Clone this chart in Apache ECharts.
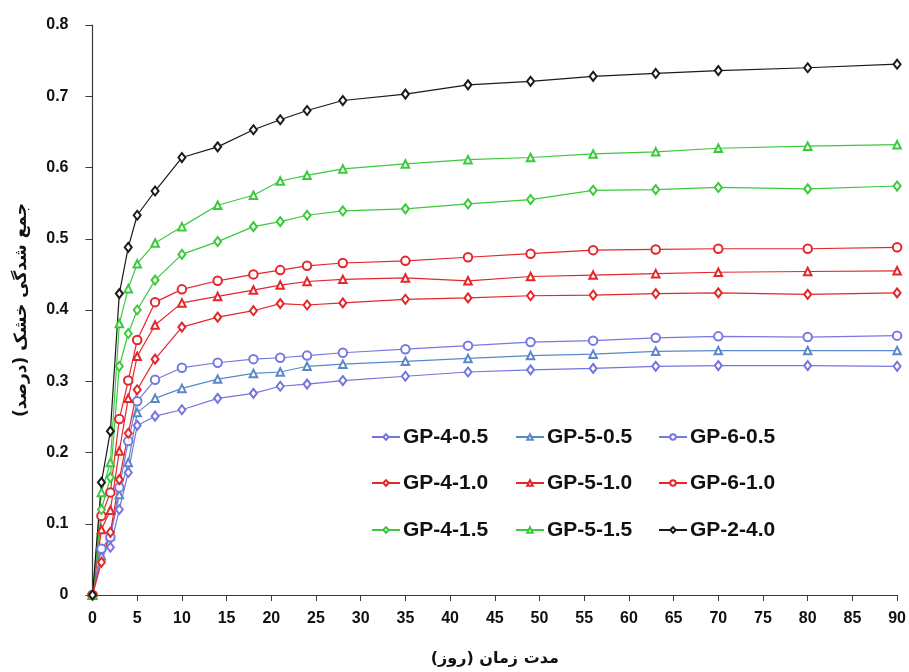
<!DOCTYPE html>
<html>
<head>
<meta charset="utf-8">
<script src="https://cdn.jsdelivr.net/npm/echarts@6/dist/echarts.min.js"></script>
<style>
html,body{margin:0;padding:0;background:#fff;}
#chart{width:909px;height:672px;}
</style>
</head>
<body>
<div id="chart"></div>
<script>
// ---- data ----
var days = [0, 1, 2, 3, 4, 5, 7, 10, 14, 18, 21, 24, 28, 35, 42, 49, 56, 63, 70, 80, 90];
var gp4_05 = [0, 0.062, 0.067, 0.120, 0.172, 0.238, 0.251, 0.260, 0.276, 0.283, 0.293, 0.296, 0.301, 0.307, 0.313, 0.316, 0.318, 0.321, 0.322, 0.322, 0.321];
var gp5_05 = [0, 0.055, 0.083, 0.141, 0.186, 0.256, 0.276, 0.290, 0.303, 0.311, 0.313, 0.321, 0.324, 0.328, 0.332, 0.336, 0.338, 0.342, 0.343, 0.343, 0.343];
var gp6_05 = [0, 0.065, 0.081, 0.151, 0.216, 0.272, 0.302, 0.319, 0.326, 0.331, 0.333, 0.336, 0.340, 0.345, 0.350, 0.355, 0.357, 0.361, 0.363, 0.362, 0.364];
var gp4_10 = [0, 0.046, 0.088, 0.162, 0.227, 0.288, 0.331, 0.376, 0.390, 0.399, 0.409, 0.407, 0.410, 0.415, 0.417, 0.420, 0.421, 0.423, 0.424, 0.422, 0.424];
var gp5_10 = [0, 0.092, 0.119, 0.202, 0.276, 0.335, 0.379, 0.410, 0.419, 0.428, 0.435, 0.440, 0.443, 0.445, 0.441, 0.447, 0.449, 0.451, 0.453, 0.454, 0.455];
var gp6_10 = [0, 0.111, 0.144, 0.247, 0.301, 0.358, 0.411, 0.429, 0.441, 0.450, 0.456, 0.462, 0.466, 0.469, 0.474, 0.479, 0.484, 0.485, 0.486, 0.486, 0.488];
var gp4_15 = [0, 0.120, 0.165, 0.321, 0.367, 0.400, 0.442, 0.478, 0.496, 0.517, 0.524, 0.533, 0.539, 0.542, 0.549, 0.555, 0.568, 0.569, 0.572, 0.570, 0.574];
var gp5_15 = [0, 0.144, 0.186, 0.381, 0.430, 0.465, 0.494, 0.517, 0.547, 0.561, 0.581, 0.589, 0.598, 0.605, 0.611, 0.614, 0.619, 0.622, 0.627, 0.630, 0.632];
var gp2_40 = [0, 0.158, 0.230, 0.423, 0.488, 0.533, 0.567, 0.614, 0.629, 0.653, 0.667, 0.680, 0.694, 0.703, 0.716, 0.721, 0.728, 0.732, 0.736, 0.740, 0.745];

var seriesNames = ['GP-4-0.5', 'GP-5-0.5', 'GP-6-0.5', 'GP-4-1.0', 'GP-5-1.0', 'GP-6-1.0', 'GP-4-1.5', 'GP-5-1.5', 'GP-2-4.0'];
var seriesValues = [gp4_05, gp5_05, gp6_05, gp4_10, gp5_10, gp6_10, gp4_15, gp5_15, gp2_40];
var xTicks = [0, 5, 10, 15, 20, 25, 30, 35, 40, 45, 50, 55, 60, 65, 70, 75, 80, 85, 90];
var yTicks = [0, 0.1, 0.2, 0.3, 0.4, 0.5, 0.6, 0.7, 0.8];
var xTitle = 'مدت زمان (روز)';
var yTitle = 'جمع شدگی خشک (درصد)';

// ---- styles ----
var colors = ['#7474e0', '#5a88c8', '#7878e2', '#e5262b', '#e5262b', '#e5262b', '#3cc93c', '#3cc93c', '#1a1a1a'];
var symbols = ['emptyDiamond', 'emptyTriangle', 'emptyCircle', 'emptyDiamond', 'emptyTriangle', 'emptyCircle', 'emptyDiamond', 'emptyTriangle', 'emptyDiamond'];
var symSizes = [[7, 9], 7.5, 8.5, [7, 9], 7.5, 8.5, [7, 9], 7.5, [7, 9]];
var legendLeft = [371, 515, 658];
var legendTop = [425, 471, 518];

var series = seriesNames.map(function (n, i) {
  return {
    name: n,
    type: 'line',
    data: days.map(function (d, j) { return [d, seriesValues[i][j]]; }),
    symbol: symbols[i],
    symbolSize: symSizes[i],
    showAllSymbol: true,
    lineStyle: { color: colors[i], width: 1.2 },
    itemStyle: { color: colors[i], borderColor: colors[i], borderWidth: 1 },
    emphasis: { disabled: true },
    animation: false
  };
});

var legends = seriesNames.map(function (n, i) {
  return {
    data: [n],
    left: legendLeft[i % 3],
    top: legendTop[Math.floor(i / 3)],
    padding: 0,
    itemWidth: 28,
    itemHeight: 7,
    itemGap: 0,
    selectedMode: false,
    textStyle: { fontSize: 21, fontWeight: 'bold', fontFamily: 'Liberation Sans', color: '#111', lineHeight: 24, padding: [0, 0, 0, -2] }
  };
});

var chart = echarts.init(document.getElementById('chart'), null, { renderer: 'canvas' });
chart.setOption({
  backgroundColor: '#ffffff',
  animation: false,
  grid: { left: 92.5, right: 6, top: 25, bottom: 76, containLabel: false },
  legend: legends,
  xAxis: {
    type: 'value', min: xTicks[0], max: xTicks[xTicks.length - 1], interval: 5,
    name: xTitle, nameLocation: 'middle', nameGap: 56,
    nameTextStyle: { fontSize: 16, fontWeight: 'bold', fontFamily: 'DejaVu Sans', color: '#111' },
    axisLine: { lineStyle: { color: '#3a3a3a', width: 1.2 } },
    axisTick: { show: true, inside: false, length: 6, lineStyle: { color: '#3a3a3a' } },
    axisLabel: { fontSize: 16, fontWeight: 'bold', fontFamily: 'Liberation Sans', color: '#111', margin: 16 },
    splitLine: { show: false }
  },
  yAxis: {
    type: 'value', min: yTicks[0], max: yTicks[yTicks.length - 1], interval: 0.1,
    name: yTitle, nameLocation: 'middle', nameGap: 62, nameRotate: 90,
    nameTextStyle: { fontSize: 17, fontWeight: 'bold', fontFamily: 'DejaVu Sans', color: '#111' },
    axisLine: { show: true, lineStyle: { color: '#3a3a3a', width: 1.2 } },
    axisTick: { show: true, inside: false, length: 7, lineStyle: { color: '#3a3a3a' } },
    axisLabel: { fontSize: 16, fontWeight: 'bold', fontFamily: 'Liberation Sans', color: '#111', margin: 24,
      formatter: function (v) { return v === 0 ? '0' : (Math.round(v * 10) / 10).toFixed(1); } },
    splitLine: { show: false }
  },
  series: series
});
</script>
</body>
</html>
